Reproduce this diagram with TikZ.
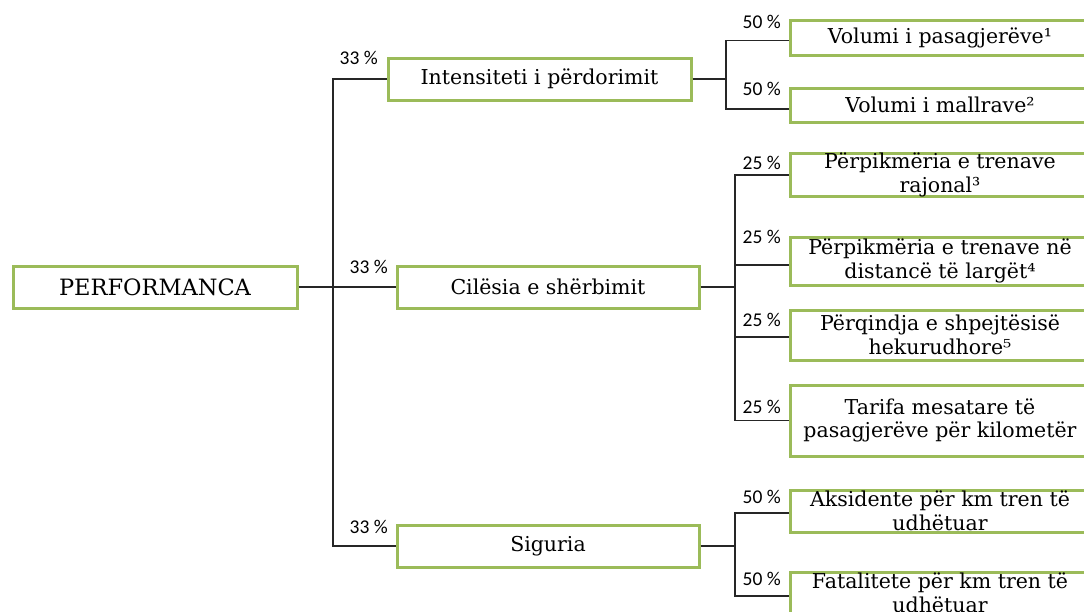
\documentclass[tikz,border=0pt]{standalone}
\usepackage{fontspec}
\setmainfont{DejaVu Serif}
\newfontfamily\pctfont{Carlito}
\definecolor{boxgreen}{HTML}{9BBB59}
\definecolor{linegray}{HTML}{262626}
\begin{document}
\begin{tikzpicture}[x=1pt,y=-1pt,
  box/.style={draw=boxgreen, line width=3pt, fill=white, rectangle, inner sep=0pt, align=center,
    font=\fontsize{20.5}{23.5}\selectfont, text=black},
  pct/.style={font=\pctfont\fontsize{19.5}{22}\selectfont, anchor=base east, inner sep=0pt, text=black},
  conn/.style={draw=linegray, line width=1.1pt}]
\useasboundingbox (0,0) rectangle (1084,611);
% level 0
\node[box, minimum width=284, minimum height=42, font=\fontsize{22.5}{26}\selectfont] (perf) at (155,287) {PERFORMANCA};
% level 1
\node[box, minimum width=303, minimum height=42] (int) at (539.5,79) {Intensiteti i përdorimit};
\node[box, minimum width=302, minimum height=42] (cil) at (548,287) {Cilësia e shërbimit};
\node[box, minimum width=302, minimum height=42] (sig) at (548,546) {Siguria};
% level 2
\node[box, minimum width=300, minimum height=35] (v1) at (940,37.5) {Volumi i pasagjerëve¹};
\node[box, minimum width=300, minimum height=34] (v2) at (940,105) {Volumi i mallrave²};
\node[box, minimum width=300, minimum height=42] (p1) at (940,175) {Përpikmëria e trenave\\rajonal³};
\node[box, minimum width=300, minimum height=48] (p2) at (940,261) {Përpikmëria e trenave në\\distancë të largët⁴};
\node[box, minimum width=300, minimum height=50] (p3) at (940,335) {Përqindja e shpejtësisë\\hekurudhore⁵};
\node[box, minimum width=300, minimum height=71] (p4) at (940,420.5) {Tarifa mesatare të\\pasagjerëve për kilometër};
\node[box, minimum width=300, minimum height=42] (a1) at (940,511) {Aksidente për km tren të\\udhëtuar};
\node[box, minimum width=300, minimum height=42] (f1) at (940,593) {Fatalitete për km tren të\\udhëtuar};
% junctions
\coordinate (j0) at (333,287);
\coordinate (j1) at (726,79);
\coordinate (j2) at (735,287);
\coordinate (j3) at (735,546);
% connectors
\draw[conn] (perf.east) -- (cil.west);
\draw[conn] (int.west) -| (j0) |- (sig.west);
\draw[conn] (int.east) -- (j1);
\draw[conn] ([yshift=-3]v1.west) -| (j1) |- ([yshift=-4]v2.west);
\draw[conn] (cil.east) -- (j2);
\draw[conn] (p1.west) -| (j2) |- (p4.west);
\draw[conn] ([yshift=-4]p2.west) -- ([yshift=-4]p2.west -| j2);
\draw[conn] ([yshift=-2]p3.west) -- ([yshift=-2]p3.west -| j2);
\draw[conn] (sig.east) -- (j3);
\draw[conn] ([yshift=-2]a1.west) -| (j3) |- ([yshift=-3]f1.west);
% percentages
\node[pct] (l1) at (378,64) {33 \%};
\node[pct] (l2) at (388,273) {33 \%};
\node[pct] (l3) at (388,533) {33 \%};
\node[pct] (l4) at (781,28) {50 \%};
\node[pct] (l5) at (781,95) {50 \%};
\node[pct] (l6) at (781,169) {25 \%};
\node[pct] (l7) at (781,243) {25 \%};
\node[pct] (l8) at (781,326) {25 \%};
\node[pct] (l9) at (781,413) {25 \%};
\node[pct] (l10) at (781,503) {50 \%};
\node[pct] (l11) at (781,585) {50 \%};
\end{tikzpicture}
\end{document}
